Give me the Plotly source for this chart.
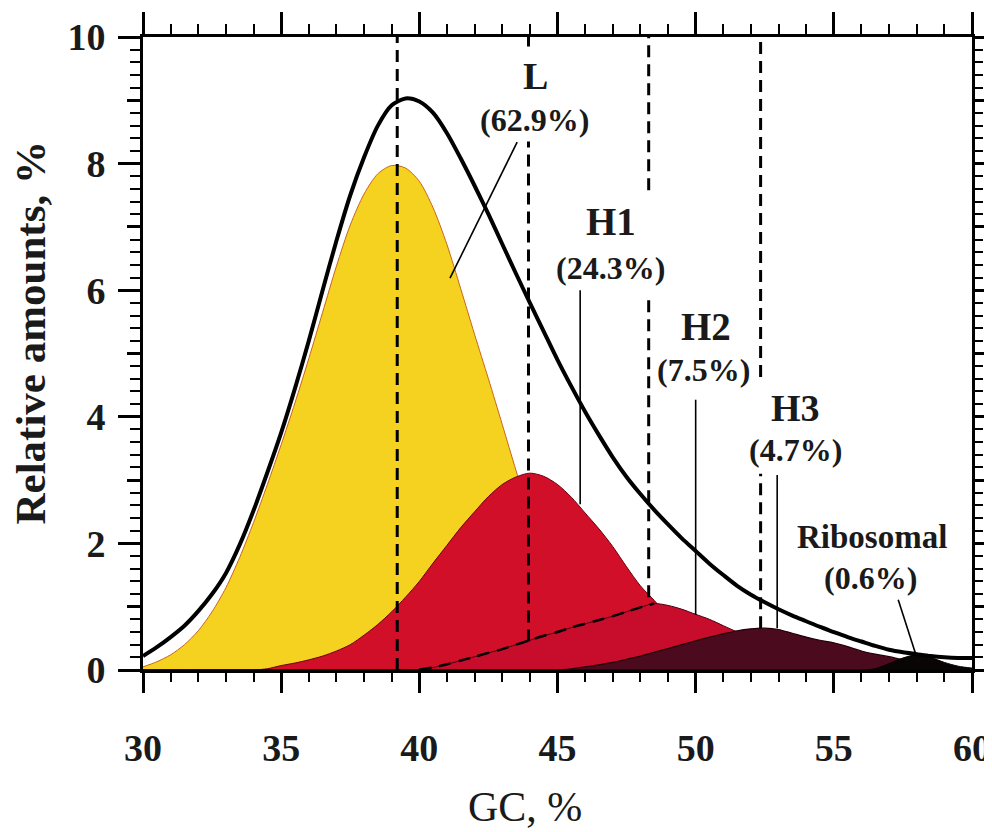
import plotly.graph_objects as go

# ---------------- data ----------------
gc = [30.0, 30.5, 31.0, 31.5, 32.0, 32.5, 33.0, 33.5, 34.0, 34.5,
      35.0, 35.5, 36.0, 36.5, 37.0, 37.5, 38.0, 38.5, 39.0, 39.5,
      40.0, 40.5, 41.0, 41.5, 42.0, 42.5, 43.0, 43.5, 44.0, 44.5,
      45.0, 45.5, 46.0, 46.5, 47.0, 47.5, 48.0, 48.5, 49.0, 49.5,
      50.0, 50.5, 51.0, 51.5, 52.0, 52.5, 53.0, 53.5, 54.0, 54.5,
      55.0, 55.5, 56.0, 56.5, 57.0, 57.5, 58.0, 58.5, 59.0, 59.5, 60.0]

total = [0.22, 0.36, 0.52, 0.70, 0.93, 1.20, 1.53, 1.98, 2.52, 3.12,
         3.75, 4.45, 5.20, 6.00, 6.78, 7.50, 8.10, 8.60, 8.92, 9.03,
         8.98, 8.80, 8.48, 8.08, 7.65, 7.20, 6.73, 6.26, 5.80, 5.35,
         4.90, 4.48, 4.08, 3.71, 3.36, 3.05, 2.78, 2.53, 2.30, 2.08,
         1.88, 1.68, 1.50, 1.33, 1.19, 1.07, 0.96, 0.86, 0.77, 0.68,
         0.60, 0.52, 0.45, 0.38, 0.32, 0.28, 0.25, 0.22, 0.20, 0.19, 0.19]

frac_L = [0.05, 0.13, 0.24, 0.40, 0.62, 0.92, 1.30, 1.78, 2.33, 2.93,
          3.56, 4.22, 4.92, 5.65, 6.38, 7.03, 7.52, 7.84, 7.97, 7.93,
          7.72, 7.30, 6.72, 6.02, 5.30, 4.60, 3.88, 3.15, 2.45, 1.82,
          1.30, 0.88, 0.57, 0.35, 0.20, 0.11, 0.05, 0.02, 0.01, 0.00,
          0.00, 0.00, 0.00, 0.00, 0.00, 0.00, 0.00, 0.00, 0.00, 0.00,
          0.00, 0.00, 0.00, 0.00, 0.00, 0.00, 0.00, 0.00, 0.00, 0.00, 0.00]

frac_H1 = [0.00, 0.00, 0.00, 0.00, 0.00, 0.00, 0.00, 0.00, 0.00, 0.02,
           0.07, 0.11, 0.16, 0.22, 0.30, 0.40, 0.55, 0.72, 0.92, 1.15,
           1.40, 1.69, 1.97, 2.25, 2.50, 2.74, 2.93, 3.05, 3.11, 3.06,
           2.93, 2.73, 2.48, 2.23, 1.95, 1.63, 1.33, 1.10, 0.85, 0.65,
           0.48, 0.35, 0.24, 0.16, 0.10, 0.06, 0.03, 0.01, 0.00, 0.00,
           0.00, 0.00, 0.00, 0.00, 0.00, 0.00, 0.00, 0.00, 0.00, 0.00, 0.00]

frac_H2 = [0.00, 0.00, 0.00, 0.00, 0.00, 0.00, 0.00, 0.00, 0.00, 0.00,
           0.00, 0.00, 0.00, 0.00, 0.00, 0.00, 0.00, 0.00, 0.00, 0.00,
           0.01, 0.04, 0.09, 0.15, 0.21, 0.27, 0.33, 0.40, 0.47, 0.54,
           0.60, 0.67, 0.73, 0.79, 0.85, 0.92, 0.99, 1.05, 1.02, 0.96,
           0.88, 0.80, 0.70, 0.60, 0.50, 0.40, 0.30, 0.22, 0.15, 0.10,
           0.06, 0.03, 0.01, 0.00, 0.00, 0.00, 0.00, 0.00, 0.00, 0.00, 0.00]

frac_H3 = [0.00, 0.00, 0.00, 0.00, 0.00, 0.00, 0.00, 0.00, 0.00, 0.00,
           0.00, 0.00, 0.00, 0.00, 0.00, 0.00, 0.00, 0.00, 0.00, 0.00,
           0.00, 0.00, 0.00, 0.00, 0.00, 0.00, 0.00, 0.00, 0.00, 0.00,
           0.00, 0.02, 0.05, 0.08, 0.12, 0.17, 0.22, 0.28, 0.34, 0.40,
           0.46, 0.52, 0.57, 0.62, 0.65, 0.66, 0.64, 0.58, 0.52, 0.47,
           0.43, 0.37, 0.30, 0.25, 0.21, 0.16, 0.11, 0.06, 0.03, 0.01, 0.00]

frac_rib = [0.00, 0.00, 0.00, 0.00, 0.00, 0.00, 0.00, 0.00, 0.00, 0.00,
            0.00, 0.00, 0.00, 0.00, 0.00, 0.00, 0.00, 0.00, 0.00, 0.00,
            0.00, 0.00, 0.00, 0.00, 0.00, 0.00, 0.00, 0.00, 0.00, 0.00,
            0.00, 0.00, 0.00, 0.00, 0.00, 0.00, 0.00, 0.00, 0.00, 0.00,
            0.00, 0.00, 0.00, 0.00, 0.00, 0.00, 0.00, 0.00, 0.00, 0.00,
            0.00, 0.00, 0.00, 0.02, 0.10, 0.19, 0.24, 0.20, 0.12, 0.06, 0.03]

# modal GC of the fractions (vertical dashed lines) and their visible pieces
peak_gc = [39.2, 43.95, 48.3, 52.35]
peak_pieces = [[(0.0, 10.0)],
               [(0.45, 8.35), (9.85, 10.0)],
               [(1.15, 5.9), (7.58, 10.0)],
               [(0.66, 3.1), (4.63, 10.0)]]

fraction_names = ["L", "H1", "H2", "H3", "Ribosomal"]
fraction_shares = ["(62.9%)", "(24.3%)", "(7.5%)", "(4.7%)", "(0.6%)"]

x_ticks = [30, 35, 40, 45, 50, 55, 60]
y_ticks = [0, 2, 4, 6, 8, 10]

# ---------------- styling / layout constants ----------------
SERIF = "Liberation Serif"
INK = "#1a1a1a"
C_L = "#F5D220"
C_H1 = "#D20F28"
C_H2 = "#C80C2B"
C_H3 = "#4B0A1E"
C_RIB = "#0A0505"

# label anchor points (GC, amount) for name and share text
name_pos = [(44.19, 9.38), (46.94, 7.08), (50.37, 5.43), (53.63, 4.14), (56.38, 2.10)]
name_size = [38, 39, 39, 38, 33]
share_pos = [(44.15, 8.69), (46.90, 6.35), (50.27, 4.74), (53.60, 3.48), (56.31, 1.45)]
pointer_lines = [((43.54, 8.34), (41.11, 6.19)),
                 ((45.82, 6.00), (45.82, 2.62)),
                 ((50.00, 4.27), (50.00, 0.87)),
                 ((52.95, 3.08), (52.95, 0.66)),
                 ((57.33, 1.11), (57.95, 0.27))]

fig = go.Figure()

def area(y, fill, edge, ew):
    fig.add_trace(go.Scatter(x=gc, y=y, mode="lines", fill="tozeroy",
                             fillcolor=fill,
                             line=dict(color=edge, width=ew, shape="spline", smoothing=0.8),
                             hoverinfo="skip", showlegend=False))

area(frac_L, C_L, "#C8641E", 1)
area(frac_H1, C_H1, "#6A0010", 1)
area(frac_H2, C_H2, "#4A0010", 1)
area(frac_H3, C_H3, "#200008", 1.2)
area(frac_rib, C_RIB, "#000000", 1)

# hidden (dashed) part of the H2 outline
i0, i1 = gc.index(40.0), gc.index(48.5)
fig.add_trace(go.Scatter(x=gc[i0:i1 + 1], y=frac_H2[i0:i1 + 1], mode="lines",
                         line=dict(color="black", width=2.5, dash="12px,8px",
                                   shape="spline", smoothing=0.8),
                         hoverinfo="skip", showlegend=False))

# total distribution
fig.add_trace(go.Scatter(x=gc, y=total, mode="lines",
                         line=dict(color="black", width=4, shape="spline", smoothing=0.8),
                         hoverinfo="skip", showlegend=False))

# dummy traces so that the overlay (mirror) axes are drawn
fig.add_trace(go.Scatter(x=[30], y=[0], xaxis="x2", yaxis="y2", mode="markers",
                         marker=dict(opacity=0), hoverinfo="skip", showlegend=False))
fig.add_trace(go.Scatter(x=[30], y=[0], xaxis="x", yaxis="y3", mode="markers",
                         marker=dict(opacity=0), hoverinfo="skip", showlegend=False))

shapes = []
for g, pieces in zip(peak_gc, peak_pieces):
    for (y0, y1) in pieces:
        shapes.append(dict(type="line", xref="x", yref="y", x0=g, x1=g, y0=y0, y1=y1,
                           line=dict(color="black", width=3, dash="12px,7px"), layer="above"))
for (a, b) in pointer_lines:
    shapes.append(dict(type="line", xref="x", yref="y", x0=a[0], y0=a[1], x1=b[0], y1=b[1],
                       line=dict(color="black", width=1.6), layer="above"))

annotations = []
for name, pos, sz in zip(fraction_names, name_pos, name_size):
    annotations.append(dict(x=pos[0], y=pos[1], xref="x", yref="y", text=f"<b>{name}</b>",
                            showarrow=False, xanchor="center", yanchor="middle",
                            font=dict(family=SERIF, size=sz, color=INK)))
for share, pos in zip(fraction_shares, share_pos):
    annotations.append(dict(x=pos[0], y=pos[1], xref="x", yref="y", text=f"<b>{share}</b>",
                            showarrow=False, xanchor="center", yanchor="middle",
                            font=dict(family=SERIF, size=32, color=INK)))

annotations.append(dict(x=-0.136, y=0.532, xref="paper", yref="paper",
                        text="<b>Relative amounts, %</b>", textangle=-90, showarrow=False,
                        xanchor="center", yanchor="middle",
                        font=dict(family=SERIF, size=43, color=INK)))
annotations.append(dict(x=0.461, y=-0.216, xref="paper", yref="paper",
                        text="GC, %", showarrow=False, xanchor="center", yanchor="middle",
                        font=dict(family=SERIF, size=42, color=INK)))

axis_common = dict(showgrid=False, zeroline=False, showline=True, linecolor="black",
                   linewidth=3, ticks="outside", tickcolor="black", automargin=False)

# the page body adds an 8px offset, so the figure is 8px smaller and margins shifted
fig.update_layout(
    width=984, height=824,
    margin=dict(l=135, r=20, t=29, b=162, autoexpand=False),
    plot_bgcolor="white", paper_bgcolor="white",
    showlegend=False,
    xaxis=dict(**axis_common, range=[30, 60], tickvals=x_ticks,
               ticktext=[f"<b>{v}</b>" for v in x_ticks], ticklen=20, tickwidth=2.5,
               minor=dict(dtick=1, ticklen=9, tickwidth=2, tickcolor="black", ticks="outside"),
               tickfont=dict(family=SERIF, size=38, color=INK),
               ticklabelstandoff=22),
    xaxis2=dict(**axis_common, range=[30, 60], overlaying="x", side="top",
                tickvals=x_ticks, ticklen=22, tickwidth=2.5, showticklabels=False,
                minor=dict(dtick=1, ticklen=10, tickwidth=2, tickcolor="black", ticks="outside")),
    yaxis=dict(**axis_common, range=[0, 10], tickvals=y_ticks, ticklen=22, tickwidth=2.5,
               minor=dict(dtick=0.2, ticklen=10, tickwidth=2, tickcolor="black", ticks="outside"),
               tickfont=dict(family=SERIF, size=38, color=INK),
               ticktext=[f"<b>{v}</b>" for v in y_ticks],
               ticklabelstandoff=5),
    yaxis2=dict(**axis_common, range=[0, 10], overlaying="y", side="right",
                dtick=1, ticklen=14, tickwidth=2.5, showticklabels=False,
                minor=dict(dtick=0.2, ticklen=8, tickwidth=2, tickcolor="black", ticks="outside")),
    yaxis3=dict(showgrid=False, zeroline=False, showline=False, ticks="outside",
                tickcolor="black", range=[0, 10], overlaying="y", side="left",
                tickvals=[1, 3, 5, 7, 9], ticklen=15, tickwidth=2.5, showticklabels=False,
                automargin=False),
    shapes=shapes,
    annotations=annotations,
)

fig.write_html("out.html")
